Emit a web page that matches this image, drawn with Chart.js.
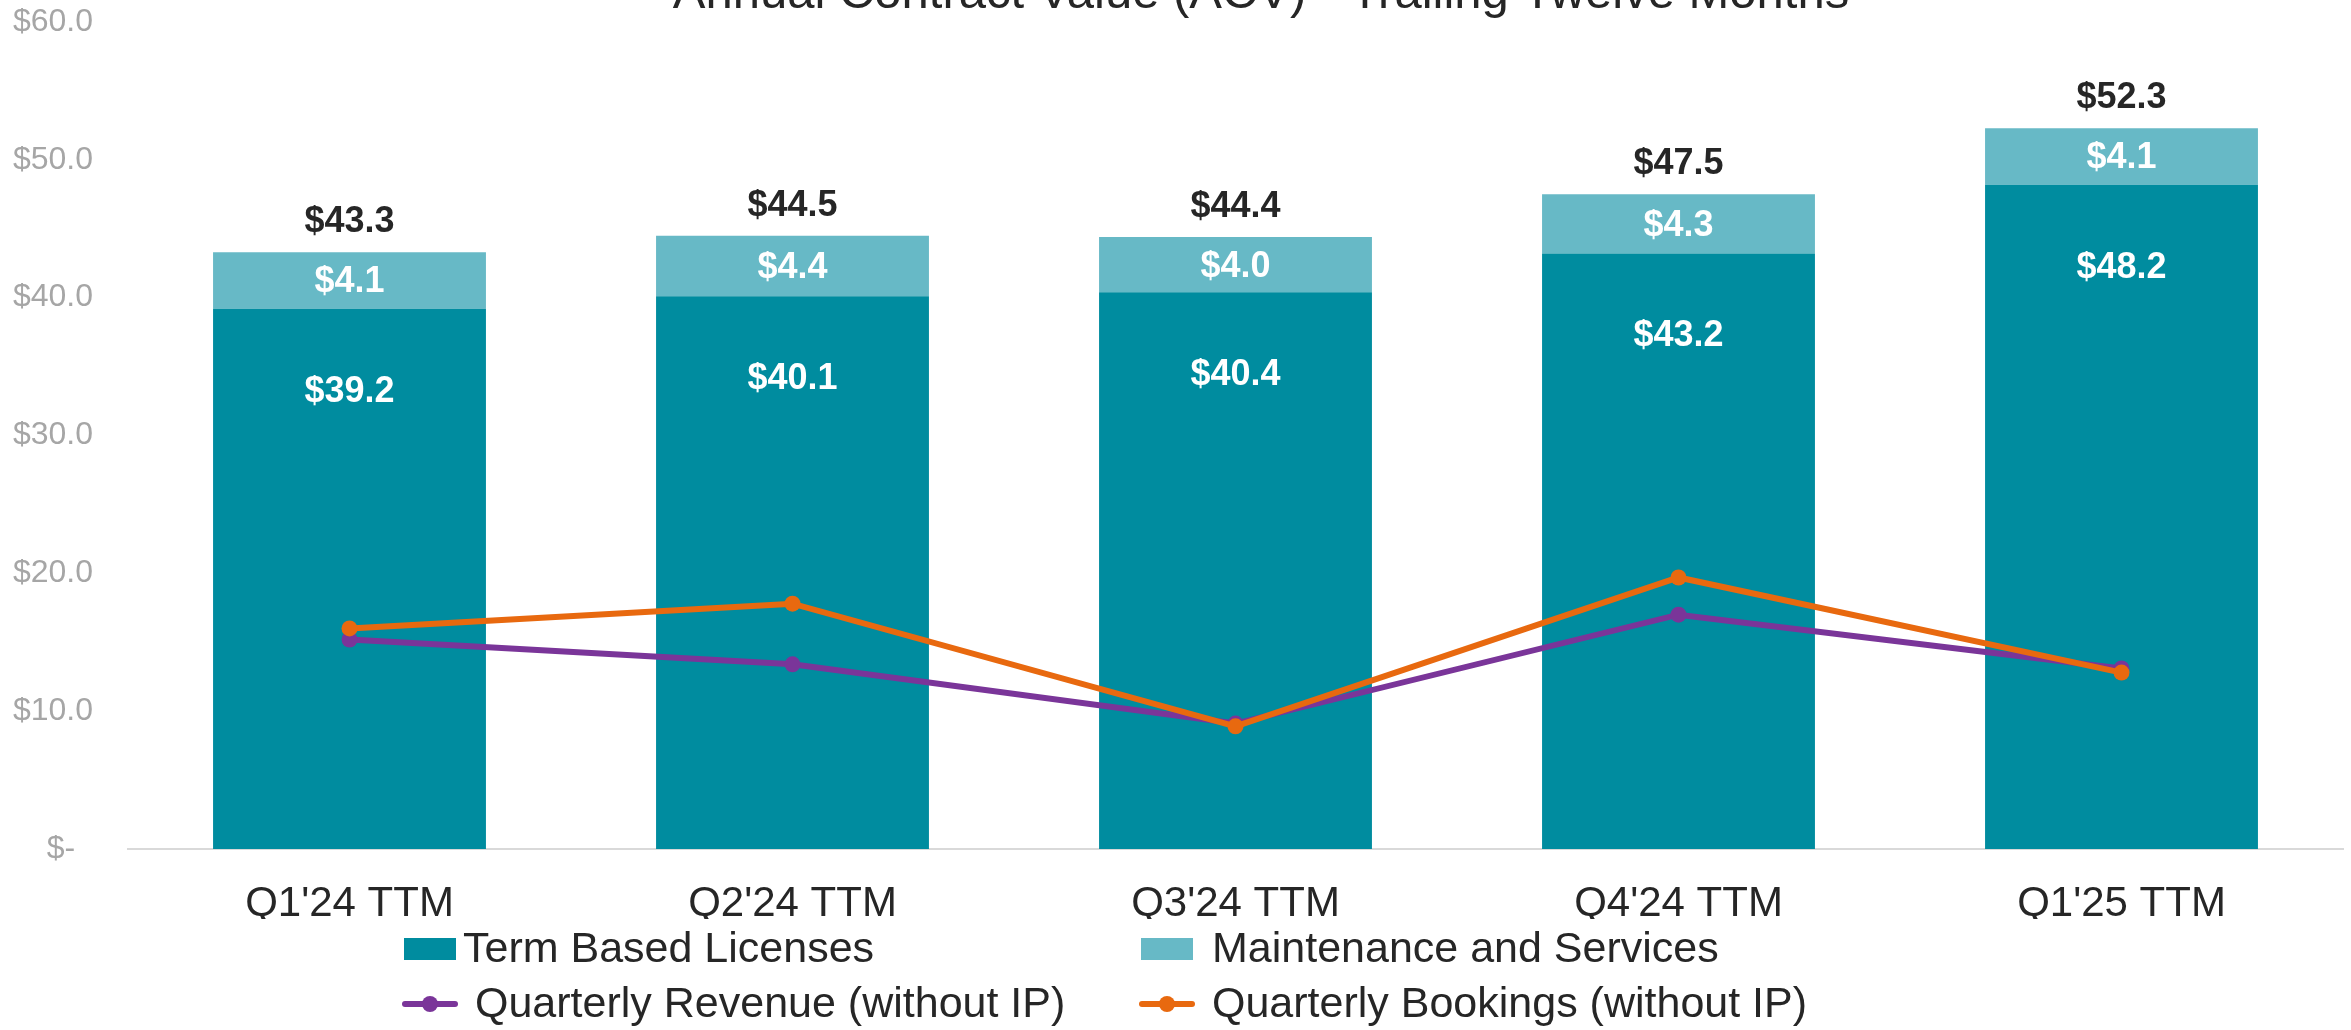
<!DOCTYPE html>
<html>
<head>
<meta charset="utf-8">
<script src="https://cdn.jsdelivr.net/npm/chart.js@4/dist/chart.umd.min.js"></script>
<style>
  body { margin: 0; background: #fff; }
  #wrap { position: relative; width: 2351px; height: 1030px; overflow: hidden; }
  #acvChart { position: absolute; left: 0; top: 0; }
  .legend-item {
    position: absolute;
    height: 43px;
    font-family: 'Liberation Sans', Arial, sans-serif;
    font-size: 43px;
    line-height: 43px;
    color: #262626;
    white-space: nowrap;
  }
  .legend-item .txt { position: absolute; top: 0; }
  .legend-box { position: absolute; width: 52px; height: 22px; top: 12px; }
  .legend-line { position: absolute; width: 56px; height: 6px; top: 20px; border-radius: 3px; }
  .legend-line span {
    position: absolute; left: 20px; top: -5px;
    width: 16px; height: 16px; border-radius: 50%;
  }
</style>
</head>
<body>
<div id="wrap">
  <canvas id="acvChart" width="2351" height="1030"></canvas>
</div>
<script>
const categories = ["Q1'24 TTM", "Q2'24 TTM", "Q3'24 TTM", "Q4'24 TTM", "Q1'25 TTM"];
const termLicenses = [39.2, 40.1, 40.4, 43.2, 48.2];
const maintServices = [4.1, 4.4, 4.0, 4.3, 4.1];
const totalAcv = [43.3, 44.5, 44.4, 47.5, 52.3];
const quarterlyRevenue = [15.2, 13.4, 9.1, 17.0, 13.1];
const quarterlyBookings = [16.0, 17.8, 8.9, 19.7, 12.8];
const seriesNames = ['Term Based Licenses', 'Maintenance and Services', 'Quarterly Revenue (without IP)', 'Quarterly Bookings (without IP)'];
const titleText = 'Annual Contract Value (ACV) - Trailing Twelve Months';

const FONT = "'Liberation Sans', Arial, sans-serif";
const TEAL = '#008C9F';
const LIGHT_TEAL = '#67B9C6';
const PURPLE = '#7A3599';
const ORANGE = '#E8690F';

Chart.defaults.font.family = FONT;

// Format money like the Excel accounting style
function money(v) {
  return '$' + v.toFixed(1);
}

// Title sits partly above the canvas edge, like the original
const titlePlugin = {
  id: 'cutTitle',
  afterDraw(chart) {
    const ctx = chart.ctx;
    ctx.save();
    ctx.font = '49px ' + FONT;
    ctx.fillStyle = '#262626';
    ctx.textAlign = 'center';
    ctx.textBaseline = 'alphabetic';
    ctx.fillText(titleText, 1261, 8);
    ctx.restore();
  },
};

// Value labels on the bars
const barLabels = {
  id: 'barLabels',
  afterDatasetsDraw(chart) {
    const ctx = chart.ctx;
    const termMeta = chart.getDatasetMeta(0);
    const maintMeta = chart.getDatasetMeta(1);
    ctx.save();
    ctx.font = 'bold 36px ' + FONT;
    ctx.textAlign = 'center';
    ctx.textBaseline = 'middle';

    termMeta.data.forEach((bar, i) => {
      ctx.fillStyle = '#ffffff';
      ctx.fillText(money(termLicenses[i]), bar.x, bar.y + 83);
    });

    maintMeta.data.forEach((bar, i) => {
      ctx.fillStyle = '#ffffff';
      ctx.fillText(money(maintServices[i]), bar.x, (bar.y + bar.base) / 2 + 2);
      ctx.fillStyle = '#262626';
      ctx.fillText(money(totalAcv[i]), bar.x, bar.y - 30);
    });
    ctx.restore();
  },
};

const ctx = document.getElementById('acvChart').getContext('2d');
const acvChart = new Chart(ctx, {
  type: 'bar',
  data: {
    labels: categories,
    datasets: [
      {
        label: seriesNames[0],
        data: termLicenses,
        backgroundColor: TEAL,
        stack: 'acv',
        order: 2,
      },
      {
        label: seriesNames[1],
        data: maintServices,
        backgroundColor: LIGHT_TEAL,
        stack: 'acv',
        order: 3,
      },
      {
        type: 'line',
        label: seriesNames[2],
        data: quarterlyRevenue,
        borderColor: PURPLE,
        backgroundColor: PURPLE,
        borderWidth: 6,
        pointRadius: 8,
        pointBorderWidth: 0,
        tension: 0,
        stack: 'rev',
        order: 1,
      },
      {
        type: 'line',
        label: seriesNames[3],
        data: quarterlyBookings,
        borderColor: ORANGE,
        backgroundColor: ORANGE,
        borderWidth: 6,
        pointRadius: 8,
        pointBorderWidth: 0,
        tension: 0,
        stack: 'book',
        order: 0,
      },
    ],
  },
  options: {
    responsive: false,
    animation: false,
    layout: {
      padding: { top: 22, right: 6, left: 0, bottom: 111 },
    },
    datasets: {
      bar: {
        categoryPercentage: 1,
        barPercentage: 0.616,
      },
    },
    plugins: {
      legend: { display: false },
      tooltip: { enabled: false },
      title: { display: false },
    },
    scales: {
      x: {
        stacked: true,
        grid: { display: false, drawTicks: false },
        border: { display: true, color: '#D9D9D9', width: 2 },
        ticks: {
          color: '#262626',
          font: { size: 42 },
          padding: 30,
          maxRotation: 0,
        },
        afterFit: (scale) => {
          scale.height = 70;
          scale.paddingLeft = 0;
          scale.paddingRight = 0;
        },
      },
      y: {
        stacked: true,
        min: 0,
        max: 60,
        grid: { display: false, drawTicks: false },
        border: { display: false },
        ticks: {
          stepSize: 10,
          color: '#A6A6A6',
          font: { size: 32 },
          padding: 35,
          callback: (v) => (v === 0 ? '$-  ' : money(v)),
        },
        afterFit: (scale) => {
          scale.width = 128;
          scale.paddingTop = 0;
          scale.paddingBottom = 0;
        },
      },
    },
  },
  plugins: [titlePlugin, barLabels],
});

// HTML legend laid out in two columns like the original
function buildLegend(chart) {
  const wrap = document.getElementById('wrap');
  const spots = [
    { left: 404, top: 926, text: 59 },
    { left: 1141, top: 926, text: 71 },
    { left: 402, top: 981, text: 73 },
    { left: 1139, top: 981, text: 73 },
  ];
  chart.data.datasets.forEach((ds, i) => {
    const item = document.createElement('div');
    item.className = 'legend-item';
    item.style.left = spots[i].left + 'px';
    item.style.top = spots[i].top + 'px';

    const marker = document.createElement('div');
    if (ds.type === 'line') {
      marker.className = 'legend-line';
      marker.style.background = ds.borderColor;
      const dot = document.createElement('span');
      dot.style.background = ds.borderColor;
      marker.appendChild(dot);
    } else {
      marker.className = 'legend-box';
      marker.style.background = ds.backgroundColor;
    }
    item.appendChild(marker);

    const text = document.createElement('span');
    text.className = 'txt';
    text.style.left = spots[i].text + 'px';
    text.textContent = ds.label;
    item.appendChild(text);
    wrap.appendChild(item);
  });
}

buildLegend(acvChart);
</script>
</body>
</html>
